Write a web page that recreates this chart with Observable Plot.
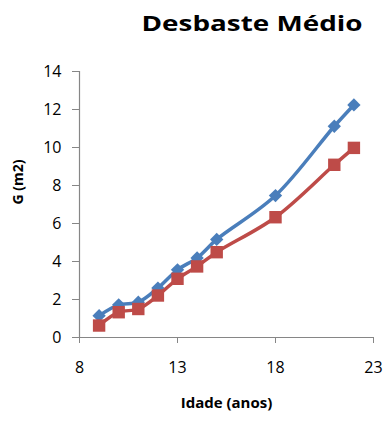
<!DOCTYPE html>
<html>
<head>
<meta charset="utf-8">
<script src="https://cdn.jsdelivr.net/npm/d3@7"></script>
<script src="https://cdn.jsdelivr.net/npm/@observablehq/plot@0.6"></script>
<style>
  html, body { margin: 0; padding: 0; background: #fff; }
  #wrap { width: 387px; height: 422px; font-family: "Open Sans", sans-serif; }
  #title { display: block; }
</style>
</head>
<body>
<div id="wrap">
  <svg id="title" width="387" height="60">
    <text id="tt" transform="translate(252,31) scale(1.3,1)" text-anchor="middle" font-family="Open Sans" font-weight="bold" font-size="21" fill="#000">Desbaste Médio</text>
  </svg>
  <div id="chart"></div>
</div>
<script>
const idade = [9, 10, 11, 12, 13, 14, 15, 18, 21, 22];
const serieAzul = [1.15, 1.72, 1.86, 2.6, 3.56, 4.19, 5.16, 7.47, 11.12, 12.24];
const serieVermelha = [0.63, 1.33, 1.5, 2.21, 3.09, 3.74, 4.49, 6.33, 9.09, 9.98];
const xTicks = [8, 13, 18, 23];
const yTicks = [0, 2, 4, 6, 8, 10, 12, 14];
const yLabel = "G (m2)";
const xLabel = "Idade (anos)";

const azul = idade.map((x, i) => ({x, y: serieAzul[i]}));
const vermelha = idade.map((x, i) => ({x, y: serieVermelha[i]}));

const blue = "#4a7ebb", red = "#be4b48", gray = "#868686";

// fit title width to the reference (~221px)
const tt = document.getElementById("tt");
const w = tt.getComputedTextLength();
if (w > 0) tt.setAttribute("transform", `translate(252,31) scale(${221 / w},1)`);

const chart = Plot.plot({
  width: 387,
  height: 362,
  marginLeft: 79,
  marginRight: 14,
  marginTop: 11,
  marginBottom: 85,
  style: {fontFamily: "Open Sans", background: "white"},
  x: {domain: [8, 23]},
  y: {domain: [0, 14]},
  marks: [
    Plot.axisX({ticks: xTicks, tickSize: 6, tickPadding: 18, fontSize: 16, stroke: gray, fill: "#000", label: null}),
    Plot.axisY({ticks: yTicks, tickSize: 7, tickPadding: 11, fontSize: 16, stroke: gray, fill: "#000", label: null}),
    Plot.ruleX([8], {stroke: gray, strokeWidth: 1.2}),
    Plot.ruleY([0], {stroke: gray, strokeWidth: 1.2}),
    Plot.line(azul, {x: "x", y: "y", stroke: blue, strokeWidth: 3.5, curve: "catmull-rom"}),
    Plot.dot(azul, {x: "x", y: "y", symbol: "diamond2", r: 6, fill: blue, stroke: null}),
    Plot.line(vermelha, {x: "x", y: "y", stroke: red, strokeWidth: 3.5, curve: "catmull-rom"}),
    Plot.dot(vermelha, {x: "x", y: "y", symbol: "square", r: 7, fill: red, stroke: null}),
    Plot.text([yLabel], {frameAnchor: "left", dx: -61, rotate: -90, fontWeight: "bold", fontSize: 14, fill: "#000"}),
    Plot.text([xLabel], {frameAnchor: "bottom", dy: 70, fontWeight: "bold", fontSize: 15, fill: "#000"})
  ]
});
document.getElementById("chart").appendChild(chart);
</script>
</body>
</html>
